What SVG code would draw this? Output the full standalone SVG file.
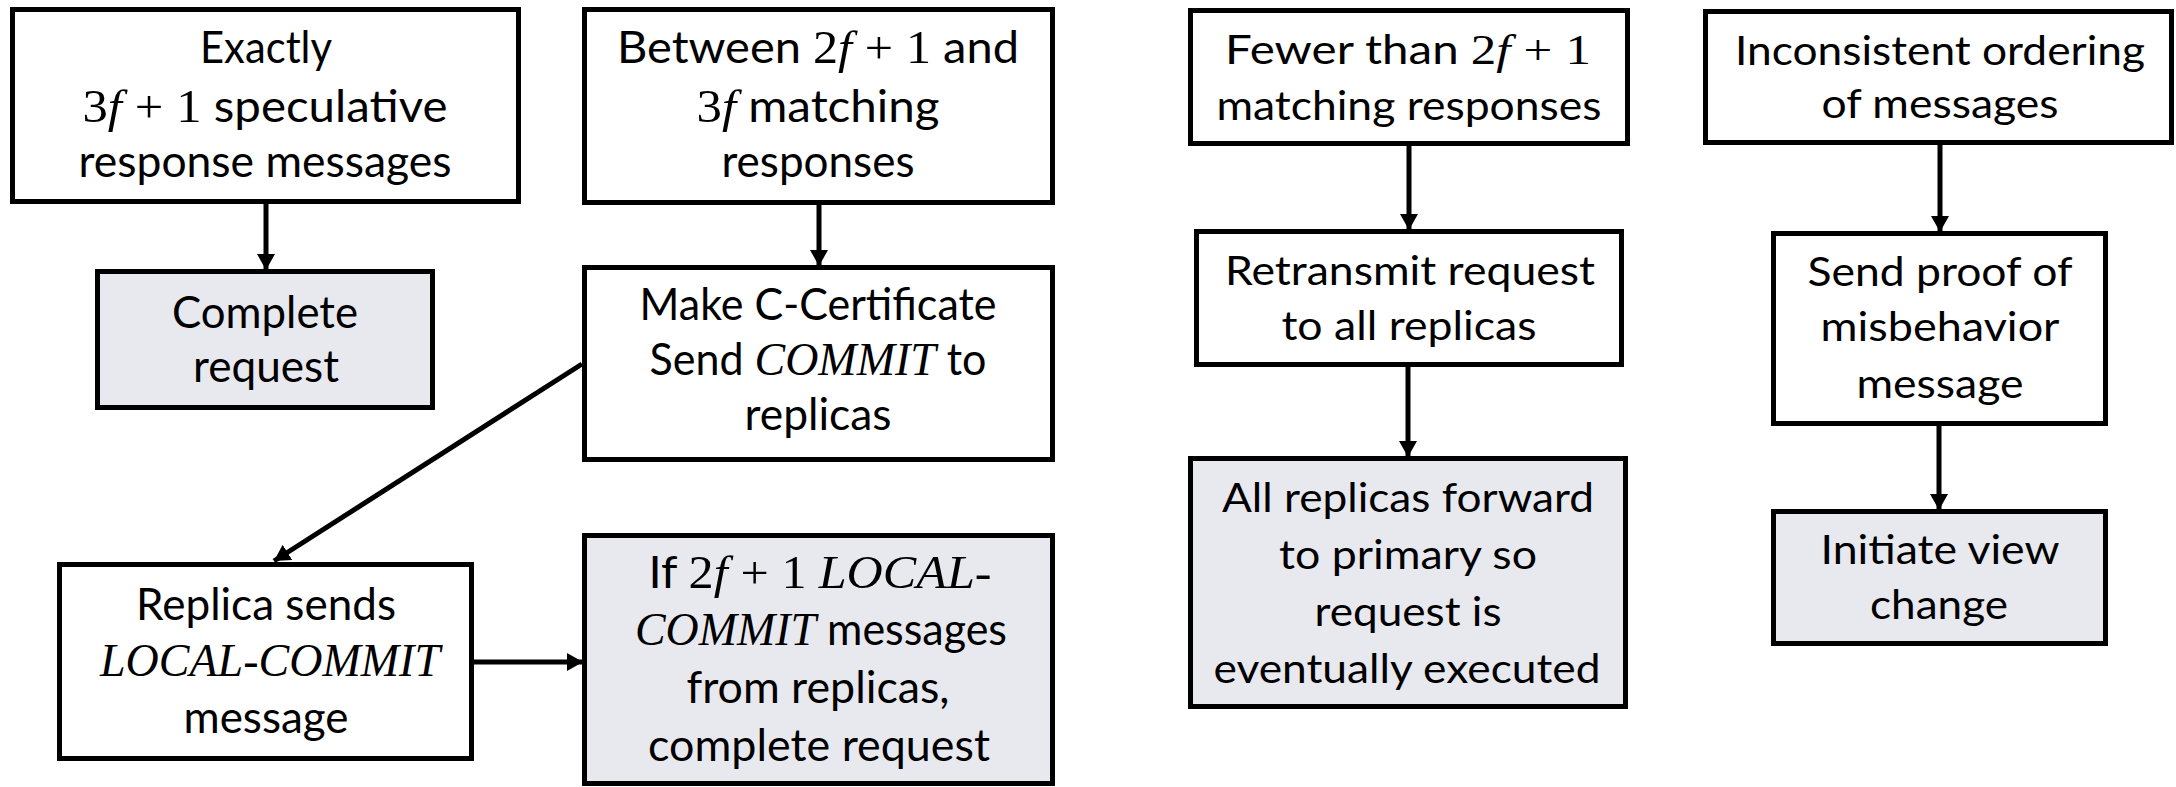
<svg xmlns="http://www.w3.org/2000/svg" width="2176" height="787" viewBox="0 0 2176 787">
<style>
.box{fill:#ffffff;stroke:#000;stroke-width:5}
.end{fill:#E8E9EE;stroke:#000;stroke-width:5}
.t{font-family:Lato,"Liberation Sans",sans-serif;font-size:44px;fill:#000;text-anchor:middle}
.r{font-size:40px}
.m{font-family:"Liberation Serif","DejaVu Serif",serif;font-size:47px}
.r .m{font-size:43px}
.i{font-family:"Liberation Serif","DejaVu Serif",serif;font-style:italic}
.c{stroke:#000;stroke-width:5;fill:none;marker-end:url(#ah)}
</style>
<defs>
<marker id="ah" viewBox="0 0 16 18" refX="16" refY="9" markerWidth="16" markerHeight="18" markerUnits="userSpaceOnUse" orient="auto">
<path d="M0,0 L16,9 L0,18 z" fill="#000"/>
</marker>
</defs>
<rect width="2176" height="787" fill="#fff"/>
<g id="connectors">
<line class="c" x1="266" y1="204" x2="266" y2="270"/>
<line class="c" x1="819" y1="205" x2="819" y2="266"/>
<line class="c" x1="582" y1="364" x2="274" y2="561"/>
<line class="c" x1="474" y1="662" x2="583" y2="662"/>
<line class="c" x1="1409" y1="146" x2="1409" y2="230"/>
<line class="c" x1="1408" y1="367" x2="1408" y2="457"/>
<line class="c" x1="1940" y1="145" x2="1940" y2="232"/>
<line class="c" x1="1939" y1="426" x2="1939" y2="510"/>
</g>
<g id="exactly">
<rect class="box" x="12.5" y="9.5" width="506" height="192"/>
<text class="t" x="266" y="63" textLength="132" lengthAdjust="spacingAndGlyphs">Exactly</text>
<text class="t" x="265" y="122" textLength="365" lengthAdjust="spacingAndGlyphs"><tspan class="m">3</tspan><tspan class="m i">f</tspan><tspan class="m" dx="12">+</tspan><tspan class="m" dx="12">1</tspan> speculative</text>
<text class="t" x="265" y="177" textLength="373" lengthAdjust="spacingAndGlyphs">response messages</text>
</g>
<g id="complete">
<rect class="end" x="97.5" y="271.5" width="335" height="136"/>
<text class="t" x="265" y="328" textLength="186" lengthAdjust="spacingAndGlyphs">Complete</text>
<text class="t" x="266" y="382" textLength="146" lengthAdjust="spacingAndGlyphs">request</text>
</g>
<g id="between">
<rect class="box" x="584.5" y="9.5" width="468" height="193"/>
<text class="t" x="818" y="63" textLength="402" lengthAdjust="spacingAndGlyphs">Between <tspan class="m">2</tspan><tspan class="m i">f</tspan><tspan class="m" dx="12">+</tspan><tspan class="m" dx="12">1</tspan> and</text>
<text class="t" x="818" y="122" textLength="243" lengthAdjust="spacingAndGlyphs"><tspan class="m">3</tspan><tspan class="m i">f</tspan> matching</text>
<text class="t" x="818" y="177" textLength="193" lengthAdjust="spacingAndGlyphs">responses</text>
</g>
<g id="certificate">
<rect class="box" x="584.5" y="267.5" width="468" height="192"/>
<text class="t" x="818" y="320" textLength="357" lengthAdjust="spacingAndGlyphs">Make C-Certificate</text>
<text class="t" x="818" y="375" textLength="337" lengthAdjust="spacingAndGlyphs">Send <tspan class="m i">COMMIT</tspan> to</text>
<text class="t" x="818" y="430" textLength="147" lengthAdjust="spacingAndGlyphs">replicas</text>
</g>
<g id="replica-sends">
<rect class="box" x="59.5" y="564.5" width="412" height="194"/>
<text class="t" x="266" y="620" textLength="260" lengthAdjust="spacingAndGlyphs">Replica sends</text>
<text class="t" x="270" y="676" textLength="340" lengthAdjust="spacingAndGlyphs"><tspan class="m i">LOCAL-COMMIT</tspan></text>
<text class="t" x="266" y="733" textLength="165" lengthAdjust="spacingAndGlyphs">message</text>
</g>
<g id="local-commit">
<rect class="end" x="584.5" y="535.5" width="468" height="248"/>
<text class="t" x="820" y="588" textLength="343" lengthAdjust="spacingAndGlyphs">If <tspan class="m">2</tspan><tspan class="m i">f</tspan><tspan class="m" dx="12">+</tspan><tspan class="m" dx="12">1</tspan> <tspan class="m i">LOCAL-</tspan></text>
<text class="t" x="821" y="645" textLength="372" lengthAdjust="spacingAndGlyphs"><tspan class="m i">COMMIT</tspan> messages</text>
<text class="t" x="818" y="703" textLength="263" lengthAdjust="spacingAndGlyphs">from replicas,</text>
<text class="t" x="819" y="761" textLength="342" lengthAdjust="spacingAndGlyphs">complete request</text>
</g>
<g id="fewer">
<rect class="box" x="1190.5" y="10.5" width="437" height="133"/>
<text class="t r" x="1408" y="64" textLength="366" lengthAdjust="spacingAndGlyphs">Fewer than <tspan class="m">2</tspan><tspan class="m i">f</tspan><tspan class="m" dx="11">+</tspan><tspan class="m" dx="11">1</tspan></text>
<text class="t r" x="1409" y="120" textLength="385" lengthAdjust="spacingAndGlyphs">matching responses</text>
</g>
<g id="retransmit">
<rect class="box" x="1196.5" y="231.5" width="425" height="133"/>
<text class="t r" x="1410" y="285" textLength="370" lengthAdjust="spacingAndGlyphs">Retransmit request</text>
<text class="t r" x="1409" y="340" textLength="255" lengthAdjust="spacingAndGlyphs">to all replicas</text>
</g>
<g id="forward">
<rect class="end" x="1190.5" y="458.5" width="435" height="248"/>
<text class="t r" x="1408" y="512" textLength="372" lengthAdjust="spacingAndGlyphs">All replicas forward</text>
<text class="t r" x="1408" y="569" textLength="258" lengthAdjust="spacingAndGlyphs">to primary so</text>
<text class="t r" x="1408" y="626" textLength="187" lengthAdjust="spacingAndGlyphs">request is</text>
<text class="t r" x="1407" y="683" textLength="387" lengthAdjust="spacingAndGlyphs">eventually executed</text>
</g>
<g id="inconsistent">
<rect class="box" x="1705.5" y="11.5" width="466" height="131"/>
<text class="t r" x="1940" y="65" textLength="410" lengthAdjust="spacingAndGlyphs">Inconsistent ordering</text>
<text class="t r" x="1940" y="118" textLength="237" lengthAdjust="spacingAndGlyphs">of messages</text>
</g>
<g id="proof">
<rect class="box" x="1773.5" y="233.5" width="332" height="190"/>
<text class="t r" x="1940" y="286" textLength="265" lengthAdjust="spacingAndGlyphs">Send proof of</text>
<text class="t r" x="1940" y="341" textLength="239" lengthAdjust="spacingAndGlyphs">misbehavior</text>
<text class="t r" x="1940" y="398" textLength="167" lengthAdjust="spacingAndGlyphs">message</text>
</g>
<g id="view-change">
<rect class="end" x="1773.5" y="511.5" width="332" height="132"/>
<text class="t r" x="1940" y="564" textLength="239" lengthAdjust="spacingAndGlyphs">Initiate view</text>
<text class="t r" x="1939" y="619" textLength="138" lengthAdjust="spacingAndGlyphs">change</text>
</g>
</svg>
